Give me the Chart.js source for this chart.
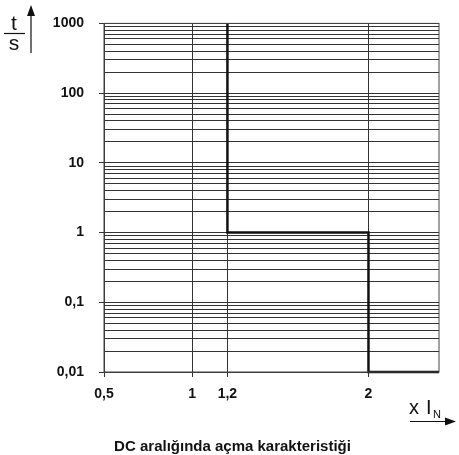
<!DOCTYPE html>
<html lang="tr">
<head>
    <meta charset="UTF-8">
    <title>DC aralığında açma karakteristiği</title>
    <script src="https://cdn.jsdelivr.net/npm/chart.js@4.4.0/dist/chart.umd.min.js"></script>
    <style>
        * { margin: 0; padding: 0; box-sizing: border-box; }
        body { background: #fff; }
        .wrap { width: 459px; height: 455px; position: relative; }
    </style>
</head>
<body>
    <div class="wrap">
        <canvas id="trip" width="459" height="455"></canvas>
    </div>

    <script>
        // tripping curve (multiple of I_N vs. time in s)
        const curveX = [1.2, 1.2, 2, 2, 2.4];
        const curveY = [1000, 1, 1, 0.01, 0.01];

        // axis ticks
        const xTickValues = [0.5, 1, 1.2, 2];
        const xTickLabels = ['0,5', '1', '1,2', '2'];
        const yMajorValues = [0.01, 0.1, 1, 10, 100, 1000];
        const yTickLabels = ['0,01', '0,1', '1', '10', '100', '1000'];
        const yMinorSteps = [2, 3, 4, 5, 6, 7, 8, 9];

        const title = 'DC aralığında açma karakteristiği';

        const yGridValues = [];
        yMajorValues.forEach((v, i) => {
            yGridValues.push(v);
            if (i < yMajorValues.length - 1) {
                yMinorSteps.forEach(m => yGridValues.push(+(v * m).toPrecision(3)));
            }
        });

        const tickFont = { family: 'Liberation Sans, Arial, sans-serif', size: 14, weight: 'bold' };

        // frame, axis captions, arrows and caption under the chart
        const decorations = {
            id: 'decorations',
            afterDraw(chart) {
                const ctx = chart.ctx;
                const a = chart.chartArea;
                ctx.save();

                ctx.strokeStyle = '#444';
                ctx.lineWidth = 1;
                ctx.strokeRect(a.left, a.top, a.right - a.left, a.bottom - a.top);

                ctx.fillStyle = '#111';
                ctx.strokeStyle = '#111';

                // t / s
                ctx.font = '21px Liberation Sans, Arial, sans-serif';
                ctx.textAlign = 'center';
                ctx.textBaseline = 'alphabetic';
                ctx.fillText('t', 14, 30);
                ctx.fillText('s', 14, 50);
                ctx.lineWidth = 1.2;
                ctx.beginPath();
                ctx.moveTo(4, 33.5);
                ctx.lineTo(25, 33.5);
                ctx.stroke();

                // up arrow
                ctx.beginPath();
                ctx.moveTo(31, 53);
                ctx.lineTo(31, 14);
                ctx.stroke();
                ctx.beginPath();
                ctx.moveTo(31, 5);
                ctx.lineTo(27, 16);
                ctx.lineTo(35, 16);
                ctx.closePath();
                ctx.fill();

                // x I_N
                ctx.textAlign = 'left';
                ctx.font = '20px Liberation Sans, Arial, sans-serif';
                ctx.fillText('x', 409, 414);
                ctx.fillText('I', 426, 414);
                ctx.font = '11px Liberation Sans, Arial, sans-serif';
                ctx.fillText('N', 433, 418);

                // right arrow
                ctx.beginPath();
                ctx.moveTo(410, 421.5);
                ctx.lineTo(446, 421.5);
                ctx.stroke();
                ctx.beginPath();
                ctx.moveTo(456, 421.5);
                ctx.lineTo(445, 417.5);
                ctx.lineTo(445, 425.5);
                ctx.closePath();
                ctx.fill();

                // caption
                ctx.textAlign = 'center';
                ctx.font = 'bold 15px Liberation Sans, Arial, sans-serif';
                ctx.fillText(title, 232.5, 451);

                ctx.restore();
            }
        };

        new Chart(document.getElementById('trip'), {
            type: 'scatter',
            data: {
                datasets: [{
                    data: curveX.map((x, i) => ({ x: x, y: curveY[i] })),
                    showLine: true,
                    borderColor: '#111',
                    borderWidth: 2.5,
                    pointRadius: 0,
                    clip: 4
                }]
            },
            options: {
                responsive: false,
                animation: false,
                events: [],
                layout: { padding: { left: 0, right: 20, top: 21, bottom: 0 } },
                plugins: {
                    legend: { display: false },
                    tooltip: { enabled: false }
                },
                scales: {
                    x: {
                        type: 'linear',
                        min: 0.5,
                        max: 2.4,
                        afterBuildTicks(scale) {
                            scale.ticks = xTickValues.map(v => ({ value: v }));
                        },
                        afterFit(scale) { scale.height = 83; },
                        ticks: {
                            autoSkip: false,
                            maxRotation: 0,
                            padding: 9,
                            color: '#111',
                            font: tickFont,
                            callback: (v) => {
                                const i = xTickValues.indexOf(v);
                                return i >= 0 ? xTickLabels[i] : '';
                            }
                        },
                        grid: {
                            color: '#333',
                            lineWidth: 1,
                            tickLength: 5,
                            tickColor: '#333'
                        },
                        border: { display: false }
                    },
                    y: {
                        type: 'logarithmic',
                        min: 0.01,
                        max: 1000,
                        afterBuildTicks(scale) {
                            scale.ticks = yGridValues.map(v => ({ value: v, major: yMajorValues.includes(v) }));
                        },
                        afterFit(scale) { scale.width = 104; },
                        ticks: {
                            autoSkip: false,
                            padding: 15,
                            color: '#111',
                            font: tickFont,
                            callback: (v) => {
                                const i = yMajorValues.indexOf(v);
                                return i >= 0 ? yTickLabels[i] : '';
                            }
                        },
                        grid: {
                            color: '#333',
                            lineWidth: 1,
                            tickLength: 5,
                            tickColor: (c) => yMajorValues.includes(c.tick && c.tick.value) ? '#333' : 'rgba(0,0,0,0)'
                        },
                        border: { display: false }
                    }
                }
            },
            plugins: [decorations]
        });
    </script>
</body>
</html>
